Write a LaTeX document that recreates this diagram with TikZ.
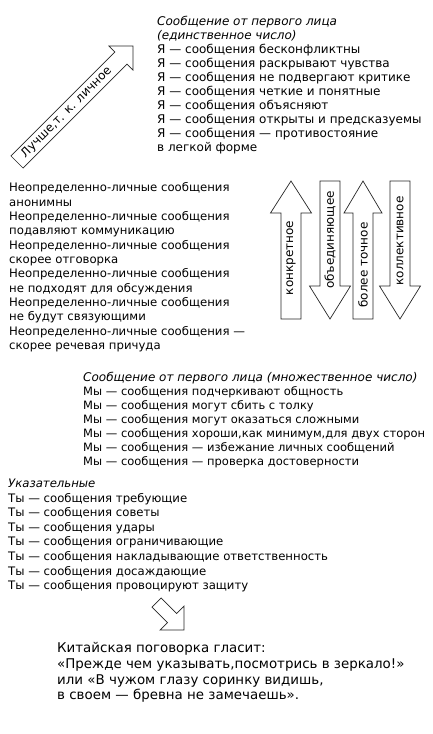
\documentclass[tikz,border=0pt]{standalone}
\usepackage{fontspec}
\setmainfont{DejaVu Sans}
\newcommand{\hdsize}{\fontsize{12}{14}\selectfont}
\begin{document}
\begin{tikzpicture}[x=1pt,y=-1pt]
\tikzset{
  txt/.style={align=left, anchor=north west, inner sep=0pt},
  fnt/.style 2 args={font=\fontsize{#1}{#2}\selectfont},
  arr/.style={draw=black!85, line width=0.7pt, fill=white, line join=miter},
  arrtxt/.style={font=\fontsize{12}{14}\selectfont, inner sep=0pt},
}
\useasboundingbox (0,0) rectangle (432,734);

% diagonal arrow
\begin{scope}[shift={(17,162)}, rotate=45]
  \draw[arr] (0,-8.5) -- (147,-8.5) -- (147,-17) -- (164,0) -- (147,17) -- (147,8.5) -- (0,8.5) -- cycle;
  \node[arrtxt, rotate=45] (better) at (70,0) {Лучше,т. к. личное};
\end{scope}

% block 1
\node[txt, fnt={12}{14.03}] (first) at (157,15) {\rule{0pt}{10pt}\itshape Сообщение от первого лица\\
\itshape (единственное число)\\
Я — сообщения бесконфликтны\\
Я — сообщения раскрывают чувства\\
Я — сообщения не подвергают критике\\
Я — сообщения четкие и понятные\\
Я — сообщения объясняют\\
Я — сообщения открыты и предсказуемы\\
Я — сообщения — противостояние\\
в легкой форме};

% block 2
\node[txt, fnt={11.7}{14.36}] (indef) at (9,181.5) {\rule{0pt}{10pt}Неопределенно-личные сообщения\\
анонимны\\
Неопределенно-личные сообщения\\
подавляют коммуникацию\\
Неопределенно-личные сообщения\\
скорее отговорка\\
Неопределенно-личные сообщения\\
не подходят для обсуждения\\
Неопределенно-личные сообщения\\
не будут связующими\\
Неопределенно-личные сообщения —\\
скорее речевая причуда};

% vertical arrows
\draw[arr] (281,319) -- (281,213) -- (270.5,213) -- (291,181) -- (311.5,213) -- (301,213) -- (301,319) -- cycle;
\draw[arr] (320,181) -- (340,181) -- (340,286) -- (350.5,286) -- (330,319) -- (309.5,286) -- (320,286) -- cycle;
\draw[arr] (353,319) -- (353,213) -- (344,213) -- (363,181) -- (382,213) -- (373,213) -- (373,319) -- cycle;
\draw[arr] (390,181) -- (410,181) -- (410,286) -- (420.5,286) -- (400,319) -- (379.5,286) -- (390,286) -- cycle;
\node[arrtxt, rotate=90] (konkr) at (291,258) {конкретное};
\node[arrtxt, rotate=90] (obed) at (330,240) {объединяющее};
\node[arrtxt, rotate=90] (tochn) at (363,265) {более точное};
\node[arrtxt, rotate=90] (koll) at (400,241) {коллективное};

% block 3
\node[txt, fnt={11.5}{14}] (plural) at (83,371.5) {\rule{0pt}{10pt}{\hdsize\itshape Сообщение от первого лица (множественное число)}\\
Мы — сообщения подчеркивают общность\\
Мы — сообщения могут сбить с толку\\
Мы — сообщения могут оказаться сложными\\
Мы — сообщения хороши,как минимум,для двух сторон\\
Мы — сообщения — избежание личных сообщений\\
Мы — сообщения — проверка достоверности};

% block 4
\node[txt, fnt={11.7}{14.57}] (point) at (8,477.5) {\rule{0pt}{10pt}\itshape Указательные\\
Ты — сообщения требующие\\
Ты — сообщения советы\\
Ты — сообщения удары\\
Ты — сообщения ограничивающие\\
Ты — сообщения накладывающие ответственность\\
Ты — сообщения досаждающие\\
Ты — сообщения провоцируют защиту};

% small arrow
\begin{scope}[shift={(156.5,602.5)}, rotate=-45]
  \draw[arr] (0,-6.4) -- (22,-6.4) -- (22,-17) -- (39,0) -- (22,17) -- (22,6.4) -- (0,6.4) -- cycle;
\end{scope}

% block 5
\node[txt, fnt={13.4}{15.7}] (proverb) at (57,641.5) {\rule{0pt}{11pt}Китайская поговорка гласит:\\
«Прежде чем указывать,посмотрись в зеркало!»\\
или «В чужом глазу соринку видишь,\\
в своем — бревна не замечаешь».};
\end{tikzpicture}
\end{document}
